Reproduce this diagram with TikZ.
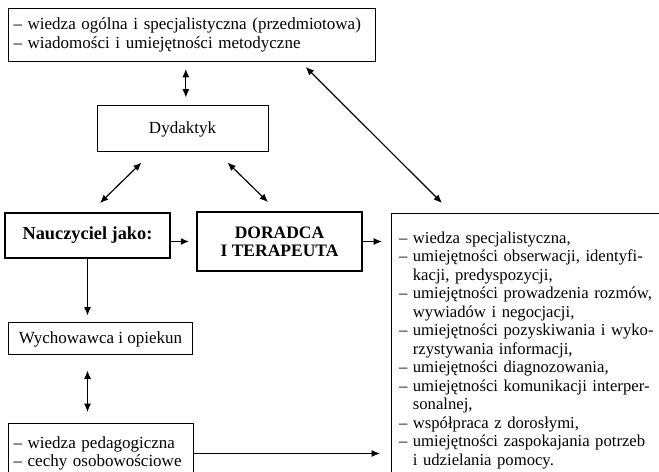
\documentclass[tikz,border=0pt]{standalone}
\usepackage{fontspec}
\setmainfont{Liberation Serif}
\usetikzlibrary{arrows.meta}

\tikzset{
  box/.style={draw, line width=0.6pt, inner sep=0pt},
  heavybox/.style={draw, line width=1.1pt, inner sep=0pt, align=center},
  listbox/.style={box, anchor=north west, align=left},
  link/.style={line width=0.7pt}
}

\begin{document}
\begin{tikzpicture}[x=0.6pt,y=-0.6pt,>={Latex[length=5pt,width=4.2pt]},
  font=\fontsize{10.2}{11.2}\selectfont]
\useasboundingbox (0,0) rectangle (659,472);
\clip (0,0) rectangle (659,472);

\node[listbox,text width=214pt,minimum height=31.8pt,inner xsep=3pt] (wiedza) at (8,8)
  {– wiedza ogólna i specjalistyczna (przedmiotowa)\\– wiadomości i umiejętności metodyczne};
\node[box,minimum width=102.6pt,minimum height=27.6pt] (dyd) at (182.5,129) {Dydaktyk};
\node[heavybox,minimum width=99pt,minimum height=27pt,font=\fontsize{11}{12}\selectfont\bfseries] (nau) at (87.5,235.5) {Nauczyciel jako:};
\node[heavybox,minimum width=99pt,minimum height=35.4pt,font=\fontsize{10.5}{11}\selectfont\bfseries] (dor) at (279.5,241.5) {DORADCA\\I TERAPEUTA};
\node[box,minimum width=111pt,minimum height=19.2pt] (wych) at (100.5,339) {Wychowawca i opiekun};
\node[listbox,text width=105pt,minimum height=36pt,inner xsep=3pt,font=\fontsize{10.2}{10.6}\selectfont] (ped) at (8,423)
  {– wiedza pedagogiczna\\– cechy osobowościowe};
\node[listbox,text width=180pt,inner xsep=4.5pt,inner ysep=11pt,font=\fontsize{10}{11.1}\selectfont] (rb) at (391,213)
  {– wiedza specjalistyczna,\\
   – umiejętności obserwacji, identyfi-\\
   \phantom{– }kacji, predyspozycji,\\
   – umiejętności prowadzenia rozmów,\\
   \phantom{– }wywiadów i negocjacji,\\
   – umiejętności pozyskiwania i wyko-\\
   \phantom{– }rzystywania informacji,\\
   – umiejętności diagnozowania,\\
   – umiejętności komunikacji interper-\\
   \phantom{– }sonalnej,\\
   – współpraca z dorosłymi,\\
   – umiejętności zaspokajania potrzeb\\
   \phantom{– }i udzielania pomocy.};

% connectors
\draw[link,<->] ([xshift=2pt,yshift=4.8pt]dyd.north) -- ([xshift=2pt,yshift=-4.2pt]dyd.north |- wiedza.south);
\draw[link,<->] ([xshift=27pt,yshift=-6pt]dyd.south west) -- ([xshift=7.5pt,yshift=5.4pt]nau.north);
\draw[link,<->] ([xshift=-24.6pt,yshift=-6pt]dyd.south east) -- ([xshift=-6.9pt,yshift=5.4pt]dor.north);
\draw[link,<->] ([xshift=-42pt,yshift=-3pt]wiedza.south east) -- ([xshift=30.6pt,yshift=6pt]rb.north west);
\draw[link,->] (nau.east |- dor.west) -- ([xshift=-4.2pt]dor.west);
\draw[link,->] (dor.east) -- ([xshift=-5.4pt]rb.west |- dor.east);
\draw[link,->] (nau.south) -- ([yshift=4.2pt]nau.south |- wych.north);
\draw[link,<->] ([yshift=-9pt]nau.south |- wych.south) -- ([yshift=6.6pt]nau.south |- ped.north);
\draw[link,->] (ped.east) -- ([xshift=-6.6pt]rb.west |- ped.east);
\end{tikzpicture}
\end{document}
